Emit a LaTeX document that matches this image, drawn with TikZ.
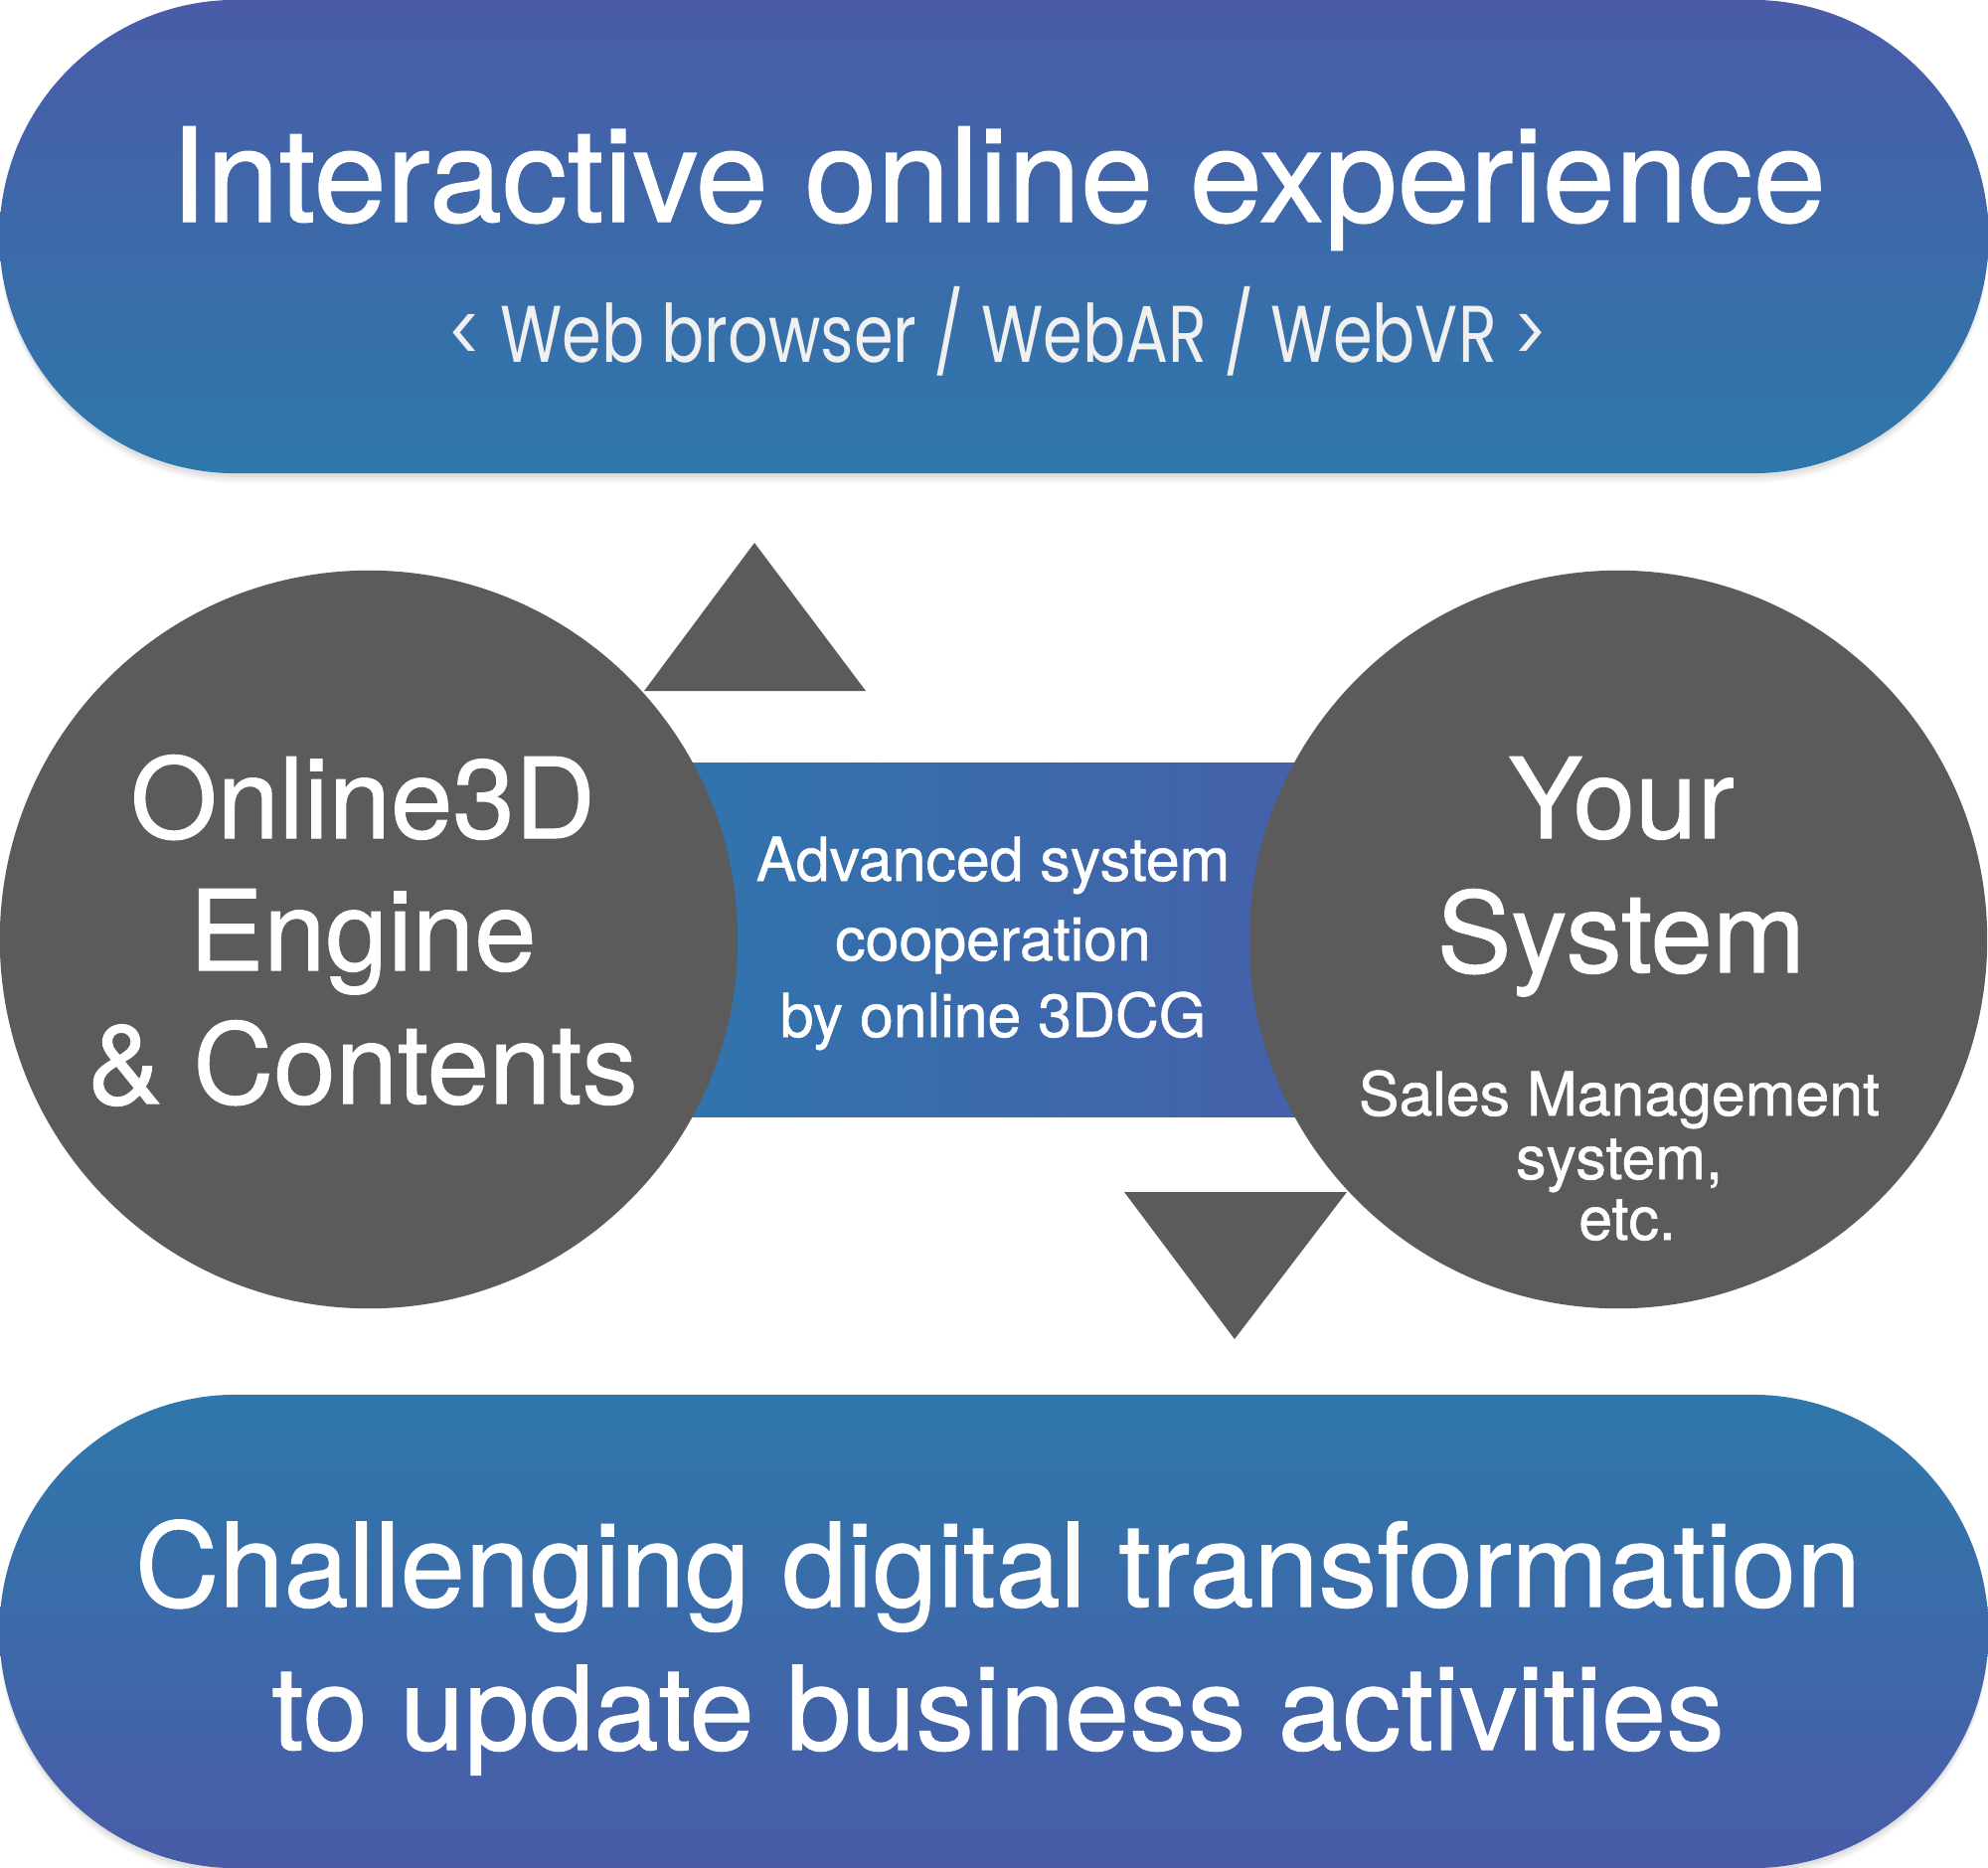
\documentclass[tikz,border=0pt]{standalone}
\usepackage{fontspec}
\setmainfont{TeX Gyre Heros}
\newfontfamily\medfont[FakeBold=0.9]{TeX Gyre Heros}
\newfontfamily\subfont{Poppins}
\definecolor{pillA}{RGB}{74,91,168}
\definecolor{pillB}{RGB}{46,120,171}
\definecolor{midA}{RGB}{48,116,173}
\definecolor{midB}{RGB}{69,96,169}
\definecolor{circ}{RGB}{91,91,91}
\definecolor{subtxt}{RGB}{240,240,240}
\tikzset{
  pillbox/.style={minimum width=20cm, minimum height=4.76cm, rounded corners=2.38cm, inner sep=0pt},
  bigcirc/.style={circle, fill=circ, minimum size=7.42cm, inner sep=0pt},
  txt/.style={text=white, anchor=base, inner sep=0pt, font=\medfont},
  tri/.style={fill=circ},
}
\begin{document}
\begin{tikzpicture}[x=0.01cm, y=-0.01cm]
\useasboundingbox (0,0) rectangle (2000,1879);
% shadows
\foreach \o/\op in {10/0.03, 7/0.04, 4/0.05} {
  \fill[black, opacity=\op, rounded corners=2.38cm] (0,\o) rectangle (2000,476+\o);
  \fill[black, opacity=\op, rounded corners=2.38cm] (0,1403+\o) rectangle (2000,1879+\o);
}
% pills
\node[pillbox, top color=pillA, bottom color=pillB] (top) at (1000,238) {};
\node[pillbox, top color=pillB, bottom color=pillA] (bot) at (1000,1641) {};
% middle band
\node[minimum width=6.4cm, minimum height=3.55cm, inner sep=0pt, left color=midA, right color=midB] (mid) at (999,945.5) {};
% circles
\node[bigcirc] (left) at (371,945) {};
\node[bigcirc] (right) at (1628,945) {};
% triangles
\coordinate (upA) at (759,546);
\coordinate (upB) at (648,695);
\coordinate (upC) at (871,695);
\coordinate (dnA) at (1242,1347);
\coordinate (dnB) at (1131,1199);
\coordinate (dnC) at (1355,1199);
\fill[tri] (upA) -- (upB) -- (upC) -- cycle;
\fill[tri] (dnA) -- (dnB) -- (dnC) -- cycle;
% texts
\node[txt, font=\medfont\fontsize{37.4}{40}\selectfont] (t1) at (1004,223) {Interactive online experience};
\node[txt, text=subtxt, font=\subfont\fontsize{23}{26}\selectfont] (t2) at (1004,364) {\scalebox{0.79}[1]{< Web browser / WebAR / WebVR >}};
\node[txt, font=\medfont\fontsize{31.9}{36}\selectfont] (l1) at (365,843) {Online3D};
\node[txt, font=\medfont\fontsize{31.9}{36}\selectfont] (l2) at (365,976) {Engine};
\node[txt, font=\medfont\fontsize{31.9}{36}\selectfont] (l3) at (365,1110) {\& Contents};
\node[txt, font=\medfont\fontsize{31.9}{36}\selectfont] (r1) at (1631,843) {Your};
\node[txt, font=\medfont\fontsize{31.9}{36}\selectfont] (r2) at (1631,978) {System};
\node[txt, font=\medfont\fontsize{17.3}{20}\selectfont] (r3) at (1629,1122) {Sales Management};
\node[txt, font=\medfont\fontsize{17.3}{20}\selectfont] (r4) at (1629,1186) {system,};
\node[txt, font=\medfont\fontsize{17.3}{20}\selectfont] (r5) at (1637,1247) {etc.};
\node[txt, font=\medfont\fontsize{17.3}{20}\selectfont] (m1) at (999,886) {Advanced system};
\node[txt, font=\medfont\fontsize{17.3}{20}\selectfont] (m2) at (999,966) {cooperation};
\node[txt, font=\medfont\fontsize{17.3}{20}\selectfont] (m3) at (999,1043) {by online 3DCG};
\node[txt, font=\medfont\fontsize{33.3}{36}\selectfont] (b1) at (1004,1616) {Challenging digital transformation};
\node[txt, font=\medfont\fontsize{33.3}{36}\selectfont] (b2) at (1004,1760) {to update business activities};
\end{tikzpicture}
\end{document}
